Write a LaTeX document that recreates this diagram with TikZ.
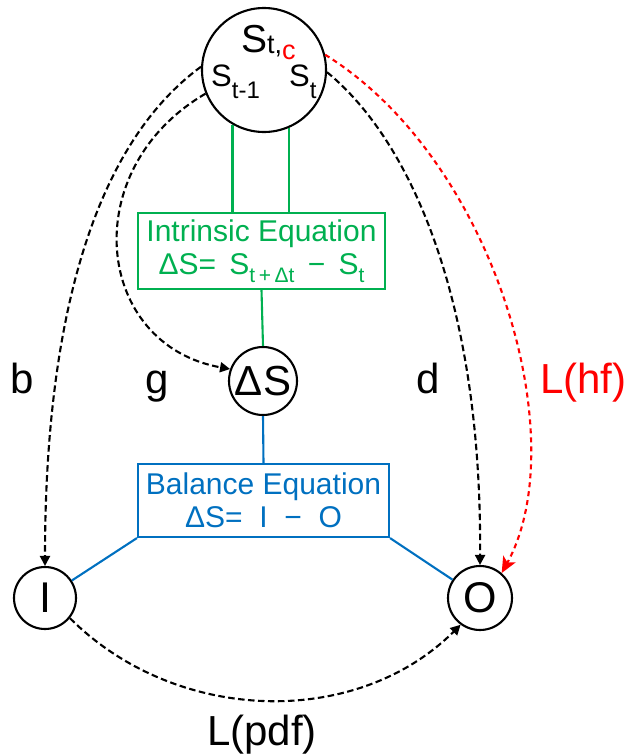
\documentclass[tikz,border=0pt]{standalone}
\usepackage{fontspec}
\setmainfont{Liberation Sans}
\usetikzlibrary{arrows.meta}
\definecolor{eqgreen}{RGB}{0,176,80}
\definecolor{eqblue}{RGB}{0,112,192}
\definecolor{hfred}{RGB}{255,0,0}
\newcommand{\fs}[1]{\fontsize{#1}{#1}\selectfont}
\newcommand{\lowsub}[3]{\raisebox{-#2}{\fs{#1}#3}}
\begin{document}
\begin{tikzpicture}[x=1pt,y=-1pt,
  state/.style={circle,draw=black,line width=2.1pt,inner sep=0pt,minimum size=#1},
  plain/.style={inner sep=0pt,anchor=base west},
  eqbox/.style={draw=#1,text=#1,line width=2.1pt,inner sep=0pt,align=center,
    font=\fontsize{30}{33}\selectfont},
  greenline/.style={draw=eqgreen,line width=2.1pt},
  blueline/.style={draw=eqblue,line width=2.1pt},
  dasharrow/.style={line width=2.1pt,dash pattern=on 6.5pt off 3.5pt,
    -{Triangle[length=10pt,width=10pt]}},
  hfarrow/.style={draw=hfred,line width=2.1pt,dash pattern=on 5pt off 4pt,
    -{Stealth[length=16pt,width=14pt,inset=4pt]}}
]
\useasboundingbox (0,0) rectangle (630,755);

% nodes
\node[state=124] (top) at (264,70) {};
\node[plain,font=\fs{39}] (sbig) at (241,52) {S\lowsub{27}{1pt}{t,\raisebox{-6pt}{\color{hfred}c}}};
\node[plain,font=\fs{31}] (sprev) at (211,86) {S\lowsub{24}{12pt}{t-1}};
\node[plain,font=\fs{31}] (scur) at (289,86) {S\lowsub{24}{12pt}{t}};

\node[eqbox=eqgreen,minimum width=247pt,minimum height=76pt] (intr) at (261.5,251)
  {Intrinsic Equation\\ΔS= \,S\lowsub{21}{8pt}{t\,+\,Δt}\, − \,S\lowsub{21}{8pt}{t}};
\node[state=68,font=\fs{42}] (ds) at (263,381) {ΔS};
\node[eqbox=eqblue,minimum width=251pt,minimum height=73pt] (bal) at (263.5,500.5)
  {Balance Equation\\[0pt]ΔS= \ I \ − \ O};
\node[state=62,font=\fs{43}] (I) at (45,598) {I};
\node[state=64,font=\fs{43}] (O) at (480,598) {O};

% labels
\node[plain,font=\fs{42}] (lb) at (10,393) {b};
\node[plain,font=\fs{42}] (lg) at (145,393) {g};
\node[plain,font=\fs{42}] (ld) at (416,393) {d};
\node[plain,font=\fs{42},text=hfred] (lhf) at (540,393) {L(hf)};
\node[plain,font=\fs{42}] (lpdf) at (207,745) {L(pdf)};

% solid connectors
\draw[greenline] (top.240) -- (top.240 |- intr.north);
\draw[greenline] (top.293) -- (top.293 |- intr.north);
\draw[greenline] (intr.south) -- (ds.north);
\draw[blueline] (ds.south) -- (bal.north);
\draw[blueline] (bal.south west) -- (I);
\draw[blueline] (bal.south east) -- (O);

% dashed arrows
\draw[dasharrow] (top.177) .. controls (90,148) and (45,330) .. (I.north);
\draw[dasharrow] (top.202) .. controls (75,170) and (95,345) .. (ds.160);
\draw[dasharrow] (top.358) .. controls (410,140) and (482,300) .. (O.north);
\draw[hfarrow] (top.14) .. controls (495,160) and (575,440) .. (O.49);
\draw[dasharrow] (I.321) .. controls (176,724) and (356,729) .. (O.234);
\end{tikzpicture}
\end{document}
